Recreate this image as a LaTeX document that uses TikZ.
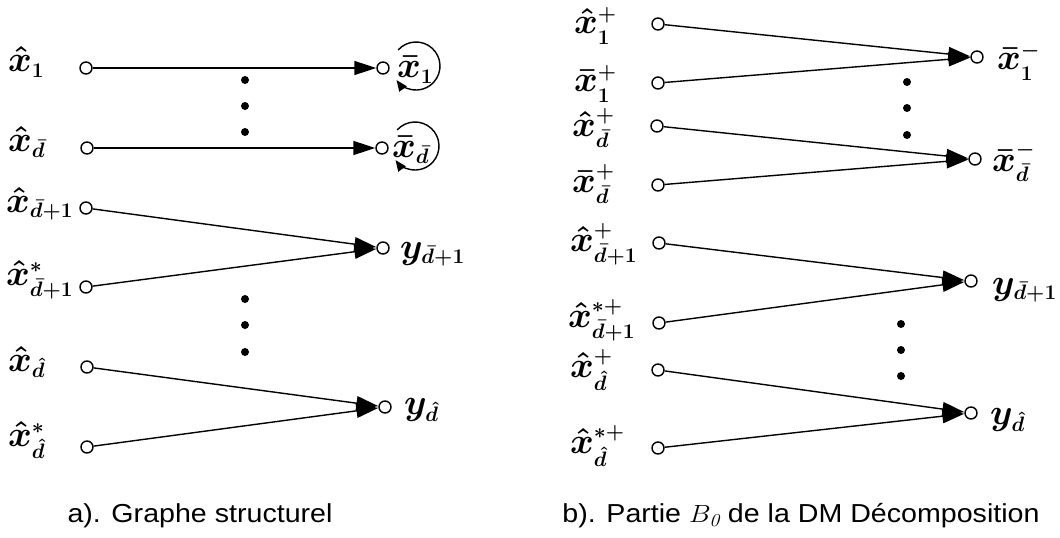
\documentclass[tikz,border=0pt]{standalone}
\usepackage{amsmath}
\usepackage{fontspec}
\newfontfamily\capfont{Liberation Sans}
\usetikzlibrary{arrows.meta}
\DeclareMathSizes{24.88}{24.88}{14.4}{10}
\newcommand{\lbl}[1]{\scalebox{1.45}{\Huge\boldmath$#1$}}
\tikzset{
  port/.style={circle, draw, fill=white, line width=1.4pt, inner sep=0pt, minimum size=12pt},
  arr/.style={line width=1.4pt, -{Triangle[length=22pt,width=14pt]}},
  looparr/.style={line width=1.4pt, -{Triangle[length=11pt,width=9pt]}},
  ell/.style={circle, fill=black, inner sep=0pt, minimum size=8pt},
  lab/.style={anchor=west, inner sep=0pt},
  captext/.style={font=\capfont\fontsize{26}{30}\selectfont}
}
\newcommand{\captxt}[1]{\scalebox{1.1}[1]{#1}}
\begin{document}
\begin{tikzpicture}[x=1pt,y=-1pt]
\useasboundingbox (0,0) rectangle (1060,538);
% ---------- panel a ----------
\node[port] (a1) at (86,68) {};
\node[port] (a2) at (87,148) {};
\node[port] (a3) at (86,208) {};
\node[port] (a4) at (86,287) {};
\node[port] (a5) at (87,367) {};
\node[port] (a6) at (87,447) {};
\node[port] (t1) at (383,68) {};
\node[port] (t2) at (382,148) {};
\node[port] (t3) at (383,248) {};
\node[port] (t4) at (385,407) {};
\draw[arr] (a1) -- (t1);
\draw[arr] (a2) -- (t2);
\draw[arr] (a3) -- (t3);
\draw[arr] (a4) -- (t3);
\draw[arr] (a5) -- (t4);
\draw[arr] (a6) -- (t4);
\node[lab] (la1) at (8,62) {\lbl{\hat{x}_1}};
\node[lab] (la2) at (8,142) {\lbl{\hat{x}_{\bar d}}};
\node[lab] (la3) at (6,204) {\lbl{\hat{x}_{\bar d+1}}};
\node[lab] (la4) at (6,280) {\lbl{\hat{x}^{*}_{\bar d+1}}};
\node[lab] (la5) at (8,362) {\lbl{\hat{x}_{\hat d}}};
\node[lab] (la6) at (8,440) {\lbl{\hat{x}^{*}_{\hat d}}};
\node[lab] (lt1) at (397,70) {\lbl{\bar{x}_1}};
\node[lab] (lt2) at (392,150) {\lbl{\bar{x}_{\bar d}}};
\node[lab] (lt3) at (400,254) {\lbl{y_{\bar d+1}}};
\node[lab] (lt4) at (404,410) {\lbl{y_{\hat d}}};
\draw[looparr] ([shift={(138:24pt)}]416,66) arc[start angle=138, end angle=-144, radius=24pt];
\draw[looparr] ([shift={(138:24pt)}]415,146) arc[start angle=138, end angle=-144, radius=24pt];
\node[ell] (da1) at (245,80) {};
\node[ell] (da2) at (245,106) {};
\node[ell] (da3) at (245,132) {};
\node[ell] (da4) at (245,299) {};
\node[ell] (da5) at (245,325) {};
\node[ell] (da6) at (245,352) {};
% ---------- panel b ----------
\node[port] (b1) at (658,24) {};
\node[port] (b2) at (658,83) {};
\node[port] (b3) at (657,126) {};
\node[port] (b4) at (658,185) {};
\node[port] (b5) at (659,243) {};
\node[port] (b6) at (659,323) {};
\node[port] (b7) at (658,370) {};
\node[port] (b8) at (658,448) {};
\node[port] (u1) at (977,57) {};
\node[port] (u2) at (975,159) {};
\node[port] (u3) at (971,281) {};
\node[port] (u4) at (971,413) {};
\draw[arr] (b1) -- (u1);
\draw[arr] (b2) -- (u1);
\draw[arr] (b3) -- (u2);
\draw[arr] (b4) -- (u2);
\draw[arr] (b5) -- (u3);
\draw[arr] (b6) -- (u3);
\draw[arr] (b7) -- (u4);
\draw[arr] (b8) -- (u4);
\node[lab] (lb1) at (574,26) {\lbl{\hat{x}^{+}_1}};
\node[lab] (lb2) at (574,84) {\lbl{\bar{x}^{+}_1}};
\node[lab] (lb3) at (572,128) {\lbl{\hat{x}^{+}_{\bar d}}};
\node[lab] (lb4) at (572,184) {\lbl{\bar{x}^{+}_{\bar d}}};
\node[lab] (lb5) at (570,244) {\lbl{\hat{x}^{+}_{\bar d+1}}};
\node[lab] (lb6) at (568,320) {\lbl{\hat{x}^{*+}_{\bar d+1}}};
\node[lab] (lb7) at (570,370) {\lbl{\hat{x}^{+}_{\hat d}}};
\node[lab] (lb8) at (570,446) {\lbl{\hat{x}^{*+}_{\hat d}}};
\node[lab] (lu1) at (997,62) {\lbl{\bar{x}^{-}_1}};
\node[lab] (lu2) at (992,162) {\lbl{\bar{x}^{-}_{\bar d}}};
\node[lab] (lu3) at (992,290) {\lbl{y_{\bar d+1}}};
\node[lab] (lu4) at (990,420) {\lbl{y_{\hat d}}};
\node[ell] (db1) at (907,82) {};
\node[ell] (db2) at (907,108) {};
\node[ell] (db3) at (907,135) {};
\node[ell] (db4) at (901,324) {};
\node[ell] (db5) at (901,350) {};
\node[ell] (db6) at (901,376) {};
% ---------- captions ----------
\node[captext] (capa) at (200,516) {\captxt{a). Graphe structurel}};
\node[captext] (capb) at (801,516) {\captxt{b). Partie $B_{\mathit{0}}$ de la DM Décomposition}};
\end{tikzpicture}
\end{document}
